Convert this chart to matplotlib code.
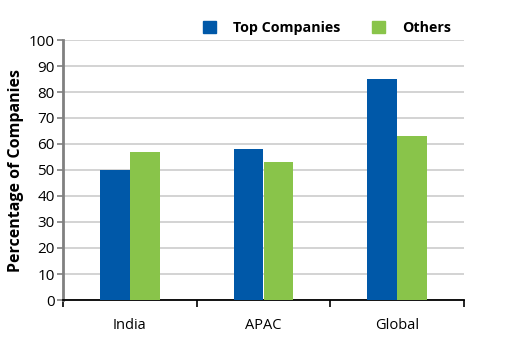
import matplotlib
matplotlib.use("Agg")
import matplotlib.pyplot as plt
import numpy as np
from matplotlib.patches import Patch

categories = ["India", "APAC", "Global"]
top_companies = [50, 58, 85]
others = [57, 53, 63]
series_names = ["Top Companies", "Others"]

plt.rcParams['font.family'] = ['Open Sans', 'DejaVu Sans']

fig = plt.figure(figsize=(5.31, 3.48), dpi=100)
W, H = 531, 348
ax = fig.add_axes([63/W, 1-300/H, (464-63)/W, (300-40)/H])

x = np.arange(len(categories))
bw = 0.224
blue = "#0058A8"
green = "#89C44A"
ax.bar(x - bw/2, top_companies, bw, color=blue, linewidth=0, zorder=3)
ax.bar(x + bw/2, others, bw, color=green, linewidth=0, zorder=3)

ax.set_xlim(-0.5, len(categories) - 0.5)
ax.set_ylim(0, 100)
ax.set_yticks(np.arange(0, 101, 10))
ax.yaxis.grid(True, color="#cccccc", linewidth=1.2, zorder=0)
ax.set_axisbelow(True)

ax.set_xticks(x)
ax.set_xticklabels(categories, fontsize=10.5)
ax.set_xticks(np.arange(-0.5, len(categories), 1), minor=True)
ax.tick_params(axis='x', which='major', length=0, pad=13)
ax.tick_params(axis='x', which='minor', length=5, width=1.2, color='black')
ax.tick_params(axis='y', length=4, width=1.2, color='#808080', labelsize=11, pad=2)

for s in ['top', 'right']:
    ax.spines[s].set_visible(False)
ax.spines['left'].set_color('#808080')
ax.spines['left'].set_linewidth(2)
ax.spines['bottom'].set_color('black')
ax.spines['bottom'].set_linewidth(1.3)

ax.set_ylabel("Percentage of Companies", fontsize=11.5, fontweight='bold', labelpad=3)

handles = [Patch(color=blue), Patch(color=green)]
fig.legend(handles, series_names, loc='center', bbox_to_anchor=(327/W, 1-28/H),
           ncol=2, frameon=False, prop={'weight': 'bold', 'size': 10.3},
           handlelength=0.9, handleheight=0.9, handletextpad=1.2, columnspacing=2.2)

fig.savefig("out.png", dpi=100)
